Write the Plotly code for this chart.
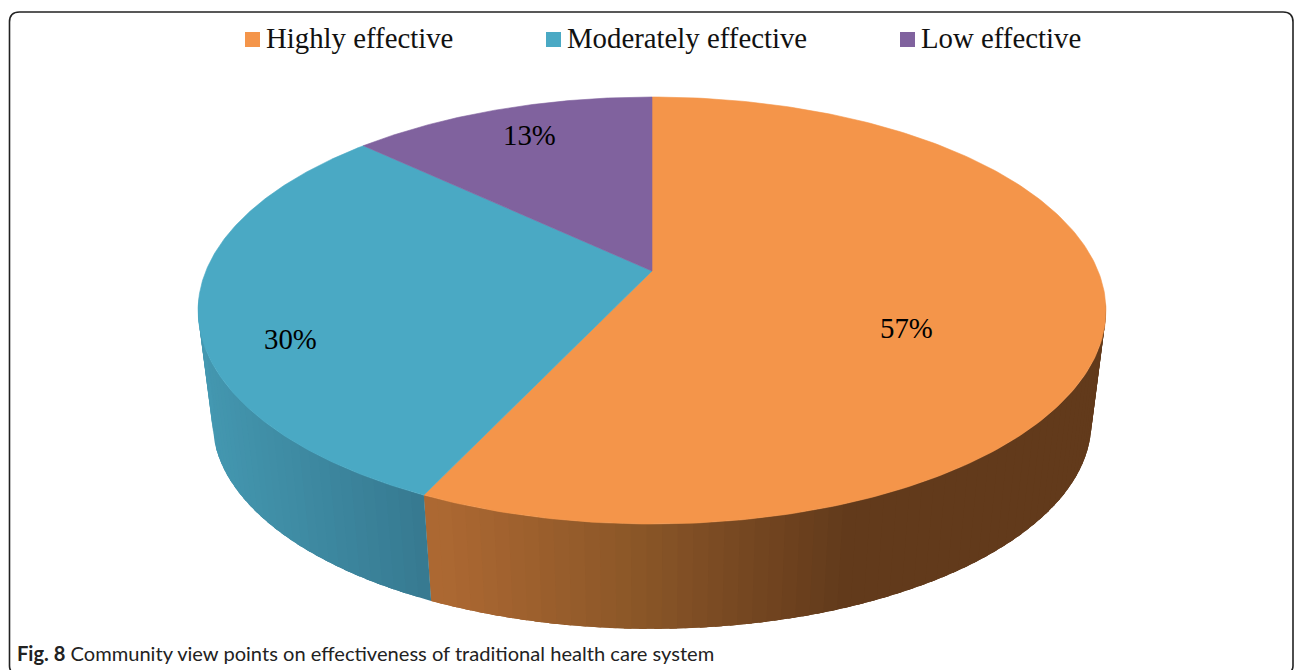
import numpy as np
import plotly.graph_objects as go

# Survey shares, clockwise from 12 o'clock
categories = ["Highly effective", "Moderately effective", "Low effective"]
shares = [57, 30, 13]
share_labels = ["57%", "30%", "13%"]
caption_lead = "Fig. 8"
caption_body = "Community view points on effectiveness of traditional health care system"

# Colours: top faces, and wall shading stops as (pixel x, rgb)
TOP_COLORS = ["#F4954A", "#4AA9C4", "#80629E"]
WALL_STOPS = [
    [(441, (172, 104, 50)), (630, (140, 87, 40)), (850, (98, 58, 27)), (1110, (98, 58, 27))],
    [(195, (68, 152, 177)), (434, (54, 120, 143))],
    [(358, (90, 70, 115)), (652, (90, 70, 115))],
]

# Perspective model of the disc, in canvas pixels
APEX_X, APEX_Y = 652.0, 271.0
SCALE_X, SCALE_Y, TILT = 446.1, 206.2, 0.185
WALL_SCALE, WALL_APEX_Y = 0.968, 384.0

# Label and key placement on the canvas
LABEL_XY = [(906, 327.5), (290, 339), (529, 134.5)]
KEY_SWATCH_X = [252.5, 553.5, 907.5]
KEY_TEXT_X = [266, 567, 921]
KEY_Y = 39.5
KEY_TEXT_Y = 38


def project(theta, scale=1.0, apex_y=APEX_Y):
    """Map clockwise-from-top angles on the unit disc to canvas pixels."""
    px, py = np.sin(theta), np.cos(theta)
    w = 1 + TILT * py
    return APEX_X + scale * SCALE_X * px / w, apex_y - scale * SCALE_Y * py / w


def shade(stops, x):
    xs = [s[0] for s in stops]
    rgb = [np.interp(x, xs, [s[1][i] for s in stops]) for i in range(3)]
    return "rgb(%d,%d,%d)" % tuple(int(round(v)) for v in rgb)


fractions = np.cumsum([0] + shares) / sum(shares) * 2 * np.pi
fig = go.Figure()

# Outer wall: shaded strips, each overlapping the next so no seams show
for k, name in enumerate(categories):
    start, end = fractions[k], fractions[k + 1]
    n = max(2, int((end - start) / (2 * np.pi) * 220))
    edges = np.linspace(start, end, n + 1)
    step = edges[1] - edges[0]
    for a in edges[:-1]:
        if np.cos(a + step / 2) > -0.15:
            continue
        arc = np.linspace(a, min(a + 2.5 * step, end), 4)
        tx, ty = project(arc)
        bx, by = project(arc[::-1], WALL_SCALE, WALL_APEX_Y)
        color = shade(WALL_STOPS[k], float(tx[0] + tx[1]) / 2)
        fig.add_trace(go.Scatter(
            x=np.r_[tx, bx, tx[0]], y=np.r_[ty, by, ty[0]],
            mode="lines", fill="toself", fillcolor=color,
            line=dict(width=0),
            hoverinfo="skip", showlegend=False,
        ))

# Top faces of the three wedges
for k, name in enumerate(categories):
    arc = np.linspace(fractions[k], fractions[k + 1], 240)
    rx, ry = project(arc)
    fig.add_trace(go.Scatter(
        x=np.r_[APEX_X, rx, APEX_X], y=np.r_[APEX_Y, ry, APEX_Y],
        mode="lines", fill="toself", fillcolor=TOP_COLORS[k],
        line=dict(color=TOP_COLORS[k], width=0.6),
        name=name, showlegend=False, hoverinfo="name",
    ))

# Key swatches
fig.add_trace(go.Scatter(
    x=KEY_SWATCH_X, y=[KEY_Y] * 3, mode="markers",
    marker=dict(symbol="square", size=15, color=TOP_COLORS, line=dict(width=0)),
    hoverinfo="skip", showlegend=False,
))

serif = "Liberation Serif"
annotations = []
for name, x in zip(categories, KEY_TEXT_X):
    annotations.append(dict(x=x, y=KEY_TEXT_Y, text=name, xanchor="left", yanchor="middle",
                            showarrow=False, xshift=-2,
                            font=dict(family=serif, size=28.8, color="#111111")))
for label, (x, y) in zip(share_labels, LABEL_XY):
    annotations.append(dict(x=x, y=y, text=label, xanchor="center", yanchor="middle",
                            showarrow=False,
                            font=dict(family=serif, size=28.8, color="#000000")))
annotations.append(dict(x=15, y=653, text=f"<b>{caption_lead}</b> {caption_body}",
                        xanchor="left", yanchor="middle", showarrow=False,
                        font=dict(family="Lato", size=20.1, color="#222222")))

# Rounded figure frame, running off the lower edge of the canvas
frame = ("M 12 672 Q 9.5 670 9.5 666 L 9.5 22 Q 9.5 12 19.5 12 L 1283 12 "
         "Q 1293 12 1293 22 L 1293 666 Q 1293 670 1290 672")

fig.update_layout(
    width=1295, height=670, margin=dict(l=0, r=0, t=0, b=0),
    paper_bgcolor="white", plot_bgcolor="white", showlegend=False,
    xaxis=dict(range=[0, 1295], visible=False, fixedrange=True),
    yaxis=dict(range=[670, 0], visible=False, fixedrange=True),
    annotations=annotations,
    shapes=[dict(type="path", path=frame, line=dict(color="#222222", width=1.6), layer="below")],
)

fig.write_html("out.html")
